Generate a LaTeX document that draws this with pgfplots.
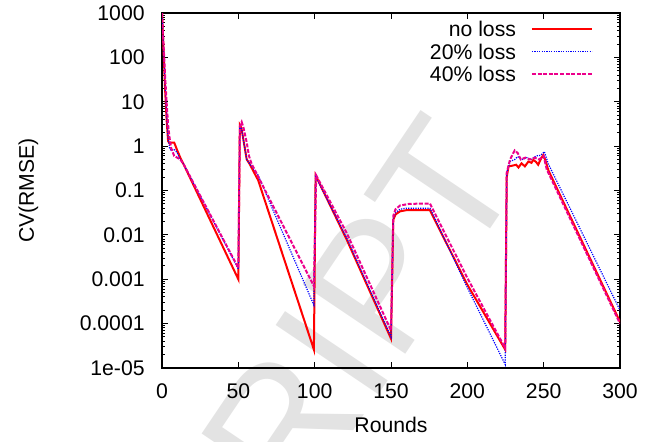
\documentclass[border=0pt]{standalone}
\usepackage{pgfplots}
\pgfplotsset{compat=1.18}
\usepackage{fontspec}
\setmainfont{Liberation Sans}
\newfontfamily\wmfont{Liberation Sans}
\begin{document}
\fontsize{10.6}{12.5}\selectfont
\begin{tikzpicture}
% faint watermark (part of "ACCEPTED MANUSCRIPT")
\node[rotate=56, text=black!11, font=\wmfont\fontsize{90}{90}\selectfont, inner sep=0pt] at ({(290-162)*0.5pt},{(368-415)*0.5pt}) {SCRIPT};
\begin{axis}[
  scale only axis, width=229pt, height=177.5pt,
  ymode=log, xmin=0, xmax=300, ymin=1e-5, ymax=1000,
  xtick={0,50,100,150,200,250,300},
  xticklabels={0,50,100,150,200,250,300},
  ytick={1e-5,1e-4,1e-3,1e-2,1e-1,1,10,100,1000},
  yticklabels={1e-05,0.0001,0.001,0.01,0.1,1,10,100,1000},
  minor ytick={2e-5,3e-5,4e-5,5e-5,6e-5,7e-5,8e-5,9e-5,
    2e-4,3e-4,4e-4,5e-4,6e-4,7e-4,8e-4,9e-4,
    2e-3,3e-3,4e-3,5e-3,6e-3,7e-3,8e-3,9e-3,
    2e-2,3e-2,4e-2,5e-2,6e-2,7e-2,8e-2,9e-2,
    0.2,0.3,0.4,0.5,0.6,0.7,0.8,0.9,
    2,3,4,5,6,7,8,9,
    20,30,40,50,60,70,80,90,
    200,300,400,500,600,700,800,900},
  tick align=inside, major tick length=3pt, minor tick length=1.5pt,
  every tick/.style={black, line width=0.5pt},
  axis line style={line width=0.6pt},
  xticklabel style={inner sep=0pt, anchor=north, yshift=-7.5pt},
  yticklabel style={inner sep=0pt, anchor=east, xshift=-8.5pt},
  xlabel={Rounds}, ylabel={CV(RMSE)},
  xlabel style={at={(axis description cs:0.5,-0.138)}, anchor=north, inner sep=0pt},
  ylabel style={at={(axis description cs:-0.2915,0.5)}, anchor=center, inner sep=0pt},
  legend style={at={(rel axis cs:1,1)}, anchor=north east, xshift=-13.5pt, yshift=-4.2pt,
    draw=none, fill=none, inner sep=0pt, outer sep=0pt, row sep=3.65pt, column sep=7.5pt,
    nodes={inner sep=0pt, text height=7.6pt, text depth=0pt}},
  legend plot pos=right, legend cell align=right,
  legend image code/.code={\draw[#1] (0pt,0pt) -- (30pt,0pt);},
]
\addplot[red, line width=1pt] coordinates {
(0,1000) (1,150) (2,20) (3,4) (4,1.3) (5,1.15) (6,1.2) (8,1.2) (10,0.8) (12,0.55) (14,0.4)
(50,0.001) (51,3.0) (52,2.6) (53.3,1.4) (55.5,0.5) (57,0.42) (63,0.17) (99.5,2.6e-5)
(100.6,0.22) (121,0.0078) (150,4.6e-5)
(151.5,0.022) (153,0.029) (156,0.034) (160,0.036) (175.5,0.036) (199.5,8.1e-4) (224.8,2.6e-5)
(225.8,0.2) (227,0.35) (229,0.36) (232,0.38) (233.5,0.33) (235.5,0.41) (237.7,0.35)
(240,0.45) (242,0.42) (243.2,0.49) (245,0.44) (246.4,0.38) (248,0.5) (249.7,0.63)
(251,0.5) (253,0.29) (300,1.1e-4)
};
\addlegendentry{no loss}
\addplot[blue, line width=0.6pt, dash pattern=on 0.6pt off 0.6pt] coordinates {
(0,1000) (1,160) (2,25) (3,5) (4,1.5) (5,0.9) (6,0.8) (8,0.85) (10,0.7) (12,0.5) (14,0.4)
(50,0.0017) (51,2.8) (52,2.6) (53.3,1.4) (55.5,0.5) (57,0.42) (63,0.22) (77.3,0.0155) (99.5,2.6e-4)
(100.6,0.21) (121,0.0085) (150,5e-5)
(151.5,0.024) (153,0.032) (156,0.038) (160,0.04) (175.5,0.04) (200,6.5e-4) (224.8,1.2e-5)
(225.8,0.25) (228,0.45) (231,0.5) (233,0.58) (236,0.5) (239,0.55) (242,0.5) (245,0.6)
(248,0.62) (250.5,0.75) (253,0.4) (300,2e-4)
};
\addlegendentry{20\% loss}
\addplot[magenta, line width=1pt, dash pattern=on 2pt off 0.8pt] coordinates {
(0,1000) (1,200) (2,40) (3,10) (4,3) (5,1.5) (6,0.9) (8,0.6) (10,0.55) (12,0.5) (14,0.4)
(50,0.0018) (51,2.8) (52.2,3.5) (53.5,2.5) (55.5,1.2) (57,0.6) (58.7,0.4) (99.5,7e-4)
(101,0.22) (121,0.011) (150,7e-5)
(151.5,0.027) (153,0.038) (156,0.046) (162,0.05) (175.5,0.051) (199.5,1.15e-3) (224.8,2.8e-5)
(225.8,0.25) (228,0.5) (231,0.8) (233,0.7) (235,0.5) (238,0.55) (241,0.5) (244,0.55)
(247,0.5) (250,0.6) (252,0.3) (300,1e-4)
};
\addlegendentry{40\% loss}
\end{axis}
\pgfresetboundingbox
\path[use as bounding box] (-81pt,-36.5pt) rectangle (247.5pt,184pt);
\end{tikzpicture}
\end{document}
